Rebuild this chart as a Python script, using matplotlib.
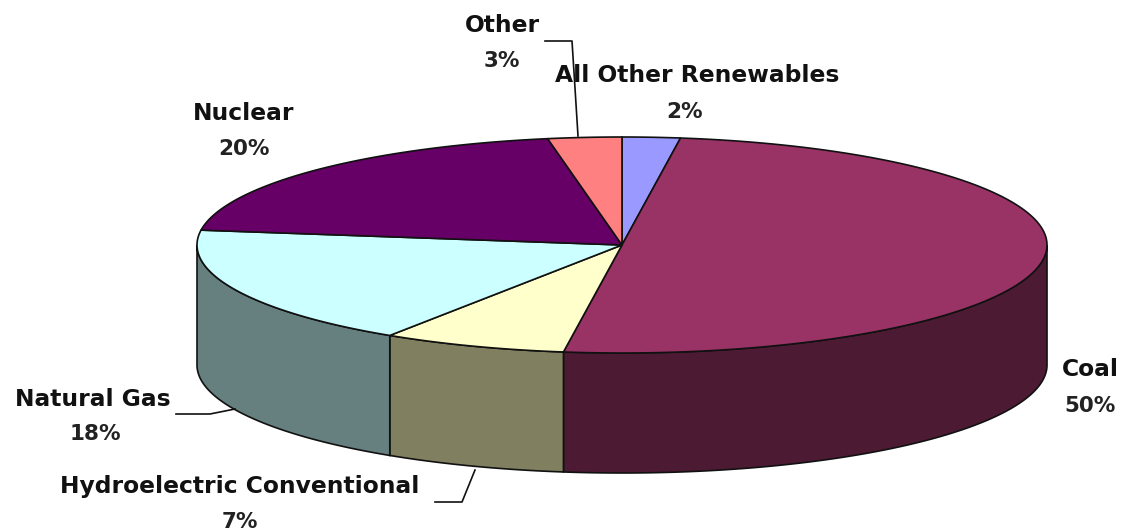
import numpy as np
import matplotlib
matplotlib.use("Agg")
import matplotlib.pyplot as plt

categories = ["All Other Renewables", "Coal", "Hydroelectric Conventional", "Natural Gas", "Nuclear", "Other"]
values = [2.2, 50, 7, 18, 20, 2.8]
percent_labels = ["2%", "50%", "7%", "18%", "20%", "3%"]
top_colors = ["#9999FF", "#993366", "#FFFFCC", "#CCFFFF", "#660066", "#FF8080"]
side_colors = ["#4D4D80", "#4D1A33", "#808060", "#668080", "#330033", "#804040"]
name_x = [697, 1090, 240, 93, 244, 502]
name_y = [75, 370, 486, 399, 114, 26]
pct_x = [684, 1090, 240, 95, 244, 502]
pct_y = [112, 406, 522, 434, 149, 61]
leaders = [
    ([545, 572, 575, 578], [41, 41, 88, 136]),
    ([176, 210, 235], [414, 414, 409]),
    ([435, 462, 475], [502, 502, 470]),
]

cx, cy, rx, ry, depth = 622, 245, 425, 108, 120
EDGE = "#111111"

fig = plt.figure(figsize=(11.24, 5.30), dpi=100)
ax = fig.add_axes([0, 0, 1, 1])
ax.set_xlim(0, 1124)
ax.set_ylim(530, 0)
ax.axis("off")


def rim(a0, a1):
    t = np.radians(np.linspace(a0, a1, 200))
    return cx + rx * np.sin(t), cy - ry * np.cos(t)


edges = np.concatenate([[0], np.cumsum(values)]) / sum(values) * 360

# side walls (visible on the front half only)
for i in range(len(values)):
    a0, a1 = max(edges[i], 90), min(edges[i + 1], 270)
    if a1 <= a0:
        continue
    x, y = rim(a0, a1)
    ax.fill(np.r_[x, x[::-1]], np.r_[y, y[::-1] + depth],
            fc=side_colors[i], ec=EDGE, lw=1.2, zorder=2)

# top face
for i in range(len(values)):
    x, y = rim(edges[i], edges[i + 1])
    ax.fill(np.r_[cx, x], np.r_[cy, y], fc=top_colors[i], ec=EDGE, lw=1.2, zorder=3)

for lx, ly in leaders:
    ax.plot(lx, ly, color="#111111", lw=1.2, zorder=6)

for i, name in enumerate(categories):
    ax.text(name_x[i], name_y[i], name, ha="center", va="center", fontsize=16.8,
            family="DejaVu Sans", fontweight="bold", color="#111111", zorder=5)
    ax.text(pct_x[i], pct_y[i], percent_labels[i], ha="center", va="center", fontsize=15.5,
            family="DejaVu Sans", fontweight="bold", color="#222222", zorder=5)

fig.savefig("out.png", dpi=100, facecolor="white")
